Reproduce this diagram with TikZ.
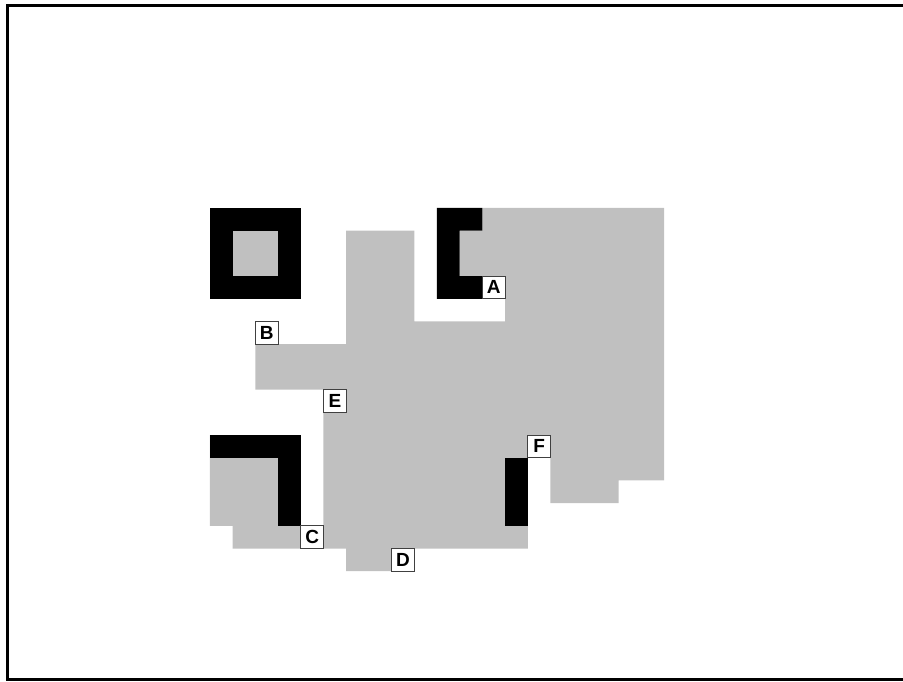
\documentclass[tikz,border=0pt]{standalone}
\usepackage{fontspec}
\setmainfont{Liberation Sans}
\definecolor{FloorGray}{HTML}{C0C0C0}
\begin{document}
\begin{tikzpicture}[x=22.7pt, y=-22.7pt,
  tag/.style={draw=black!75, line width=1pt, fill=white, minimum size=22.7pt, inner sep=0pt,
    font=\fontsize{19}{19}\selectfont\bfseries}]
\useasboundingbox (-9.251,-9.163) rectangle (30.529,20.881);
% frame
\draw[line width=3pt] (31,-8.921) -- (-8.921,-8.921) -- (-8.921,20.771) -- (31,20.771);

% main floor
\fill[FloorGray] (6,1) -- (9,1) -- (9,5) -- (13,5) -- (13,3) -- (11,3) -- (11,1) -- (12,1) -- (12,0)
  -- (20,0) -- (20,12) -- (18,12) -- (18,13) -- (15,13) -- (15,11) -- (14,11) -- (14,15)
  -- (8,15) -- (8,16) -- (6,16) -- (6,15) -- (5,15) -- (5,8) -- (2,8) -- (2,6) -- (6,6) -- cycle;
% lower left floor
\fill[FloorGray] (0,10) -- (4,10) -- (4,15) -- (1,15) -- (1,14) -- (0,14) -- cycle;

% walls
\fill[black] (0,0) rectangle (4,4);
\fill[FloorGray] (1,1) rectangle (3,3);
\fill[black] (10,0) -- (12,0) -- (12,1) -- (11,1) -- (11,3) -- (12,3) -- (12,4) -- (10,4) -- cycle;
\fill[black] (0,10) rectangle (4,11);
\fill[black] (3,10) rectangle (4,14);
\fill[black] (13,11) rectangle (14,14);

% tags
\node[tag] (tagA) at (12.5,3.5) {A};
\node[tag] (tagB) at (2.5,5.5) {B};
\node[tag] (tagC) at (4.5,14.5) {C};
\node[tag] (tagD) at (8.5,15.5) {D};
\node[tag] (tagE) at (5.5,8.5) {E};
\node[tag] (tagF) at (14.5,10.5) {F};
\end{tikzpicture}
\end{document}
